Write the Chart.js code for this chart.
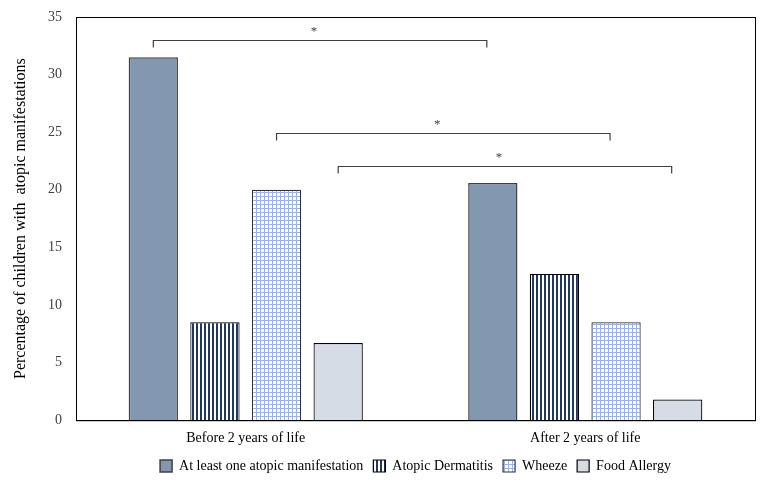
<!DOCTYPE html>
<html>
<head>
<meta charset="utf-8">
<script src="https://cdn.jsdelivr.net/npm/chart.js@4/dist/chart.umd.min.js"></script>
<style>
  body { margin: 0; background: #fff; }
  #wrap { width: 769px; height: 483px; }
</style>
</head>
<body>
<div id="wrap"><canvas id="grafico"></canvas></div>
<script>
// categorias e valores (%)
const periodos = ['Before 2 years of life', 'After 2 years of life'];
const atLeastOne = [31.5, 20.6];
const atopicDermatitis = [8.5, 12.7];
const wheeze = [20.0, 8.5];
const foodAllergy = [6.7, 1.8];
const yTicks = [0, 5, 10, 15, 20, 25, 30, 35];

// comparações significativas: [serie, categoria] -> [serie, categoria], altura da chave
const chaves = [
  { de: [0, 0], ate: [0, 1], y: 33.0 },
  { de: [2, 0], ate: [2, 1], y: 24.9 },
  { de: [3, 0], ate: [3, 1], y: 22.1 }
];

const FONTE = '"Liberation Serif", "Times New Roman", serif';

// padrões de preenchimento
function listras() {
  const c = document.createElement('canvas');
  c.width = 4; c.height = 4;
  const g = c.getContext('2d');
  g.fillStyle = '#ffffff'; g.fillRect(0, 0, 4, 4);
  g.fillStyle = '#203864'; g.fillRect(0, 0, 2, 4);
  return g.createPattern(c, 'repeat');
}
function grade() {
  const c = document.createElement('canvas');
  c.width = 4; c.height = 4;
  const g = c.getContext('2d');
  g.fillStyle = '#ffffff'; g.fillRect(0, 0, 4, 4);
  g.fillStyle = '#9bb3e4';
  g.fillRect(0, 0, 1, 4);
  g.fillRect(0, 0, 4, 1);
  return g.createPattern(c, 'repeat');
}

// moldura da área do gráfico
const moldura = {
  id: 'moldura',
  afterDraw(chart) {
    const { ctx, chartArea: a } = chart;
    ctx.save();
    ctx.strokeStyle = '#000';
    ctx.lineWidth = 1;
    ctx.strokeRect(a.left + 0.5, a.top + 0.5, a.right - a.left, a.bottom - a.top);
    ctx.restore();
  }
};

// chaves de significância com asterisco
const significancia = {
  id: 'significancia',
  afterDatasetsDraw(chart) {
    const { ctx } = chart;
    const ys = chart.scales.y;
    ctx.save();
    ctx.strokeStyle = '#404040';
    ctx.lineWidth = 1.2;
    ctx.fillStyle = '#404040';
    ctx.font = '13px ' + FONTE;
    ctx.textAlign = 'center';
    ctx.textBaseline = 'middle';
    chaves.forEach(k => {
      const x1 = chart.getDatasetMeta(k.de[0]).data[k.de[1]].x;
      const x2 = chart.getDatasetMeta(k.ate[0]).data[k.ate[1]].x - 6;
      const y = Math.round(ys.getPixelForValue(k.y)) + 0.5;
      ctx.beginPath();
      ctx.moveTo(x1, y + 7);
      ctx.lineTo(x1, y);
      ctx.lineTo(x2, y);
      ctx.lineTo(x2, y + 7);
      ctx.stroke();
      ctx.fillText('*', (x1 + x2) / 2 - 6, y - 9);
    });
    ctx.restore();
  }
};

const ctx = document.getElementById('grafico').getContext('2d');
new Chart(ctx, {
  type: 'bar',
  data: {
    labels: periodos,
    datasets: [
      { label: 'At least one atopic manifestation', data: atLeastOne,
        backgroundColor: '#8497b0', borderColor: '#404040', borderWidth: 1.5 },
      { label: 'Atopic Dermatitis', data: atopicDermatitis,
        backgroundColor: listras(), borderColor: '#000', borderWidth: 1.2 },
      { label: 'Wheeze', data: wheeze,
        backgroundColor: grade(), borderColor: '#333', borderWidth: 1.2 },
      { label: 'Food Allergy', data: foodAllergy,
        backgroundColor: '#d6dce5', borderColor: '#000', borderWidth: 1.2 }
    ]
  },
  options: {
    responsive: true,
    maintainAspectRatio: false,
    animation: false,
    layout: { autoPadding: false, padding: { top: 17, right: 14, bottom: 0, left: 0 } },
    datasets: { bar: { categoryPercentage: 0.726, barPercentage: 0.8 } },
    plugins: {
      legend: {
        position: 'bottom',
        fullSize: false,
        labels: {
          boxWidth: 12, boxHeight: 12, padding: 10,
          color: '#000',
          font: { family: FONTE, size: 14 }
        }
      },
      tooltip: { enabled: false }
    },
    scales: {
      x: {
        grid: { display: false },
        border: { display: true, color: '#000' },
        ticks: { color: '#000', font: { family: FONTE, size: 14 }, padding: 2 }
      },
      y: {
        min: 0, max: 35,
        afterBuildTicks: s => { s.ticks = yTicks.map(v => ({ value: v })); },
        afterFit: s => { s.width = 76; },
        grid: { display: false },
        border: { display: true, color: '#000' },
        ticks: { color: '#404040', font: { family: FONTE, size: 14 }, padding: 6 },
        title: {
          display: true,
          text: 'Percentage of children with  atopic manifestations',
          color: '#000',
          font: { family: FONTE, size: 16 },
          padding: { top: 11, bottom: 0 }
        }
      }
    }
  },
  plugins: [moldura, significancia]
});
</script>
</body>
</html>
